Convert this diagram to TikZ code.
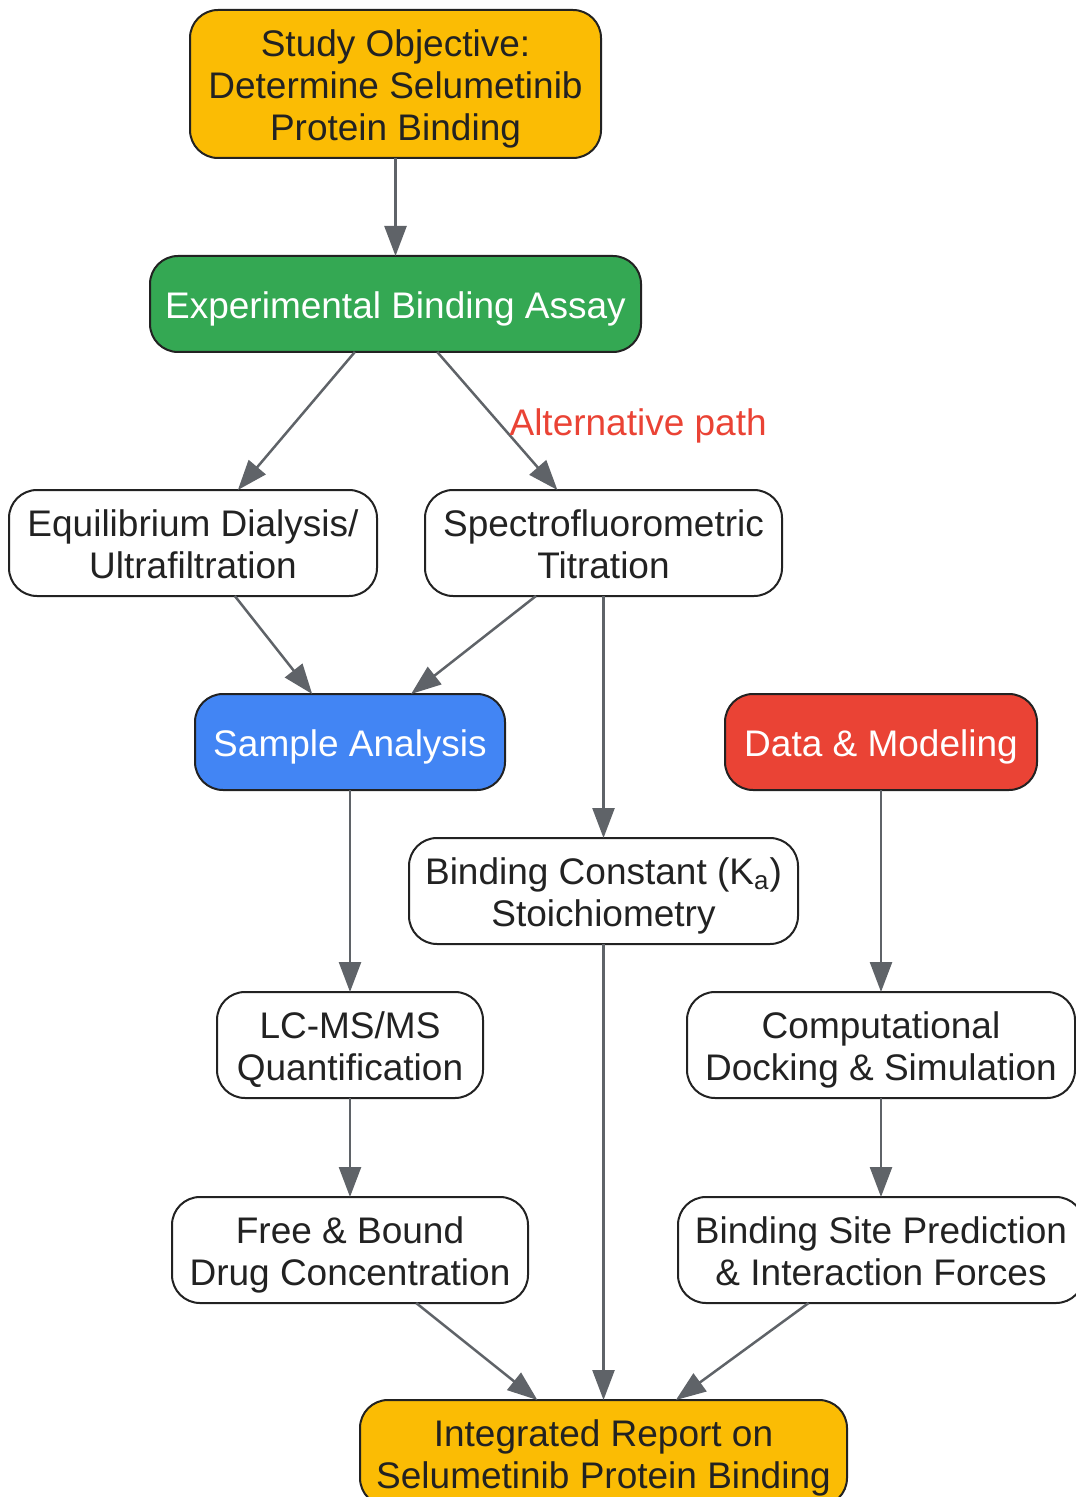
\documentclass[tikz,border=0pt]{standalone}
\usepackage{fontspec}
\setmainfont{Liberation Sans}
\usetikzlibrary{positioning}
\usetikzlibrary{arrows.meta}
\definecolor{giallo}{HTML}{FBBC04}
\definecolor{verde}{HTML}{34A853}
\definecolor{blu}{HTML}{4285F4}
\definecolor{rosso}{HTML}{EA4335}
\definecolor{linea}{HTML}{222222}
\definecolor{grigio}{HTML}{5F6368}
\begin{document}
\begin{tikzpicture}[x=0.5pt,y=-0.5pt,base/.style={draw=linea,line width=1pt,rounded corners=14pt,fill=white,text=linea,align=center,inner xsep=4pt,outer sep=0pt,text depth=3.25pt,font=\fontsize{18.5pt}{21pt}\selectfont},fase/.style={base,text=white},una/.style={minimum height=48pt,text height=17.75pt},due/.style={minimum height=53pt,text height=38.75pt},tre/.style={minimum height=74pt,text height=59.75pt},freccia/.style={draw=grigio,line width=1.25pt,-{Triangle[length=15pt,width=11pt]}},nota/.style={text=rosso,inner sep=0pt,font=\fontsize{18.5pt}{21pt}\selectfont}]
    \useasboundingbox (0,0) rectangle (1075,1497);
    %
    \node[base,tre,fill=giallo,minimum width=205.5pt](obj) at (395.5,84){Study Objective:\\Determine Selumetinib\\Protein Binding};
    \node[fase,una,fill=verde,minimum width=245.5pt,below=49pt of obj](assay){Experimental Binding Assay};
    %
    \node[base,due,minimum width=184pt](dial) at (193,543){Equilibrium Dialysis/\\Ultrafiltration};
    \node[base,due,minimum width=178.5pt](spec) at (603.5,543){Spectrofluorometric\\Titration};
    %
    \node[fase,una,fill=blu,minimum width=155pt](samp) at (350,742){Sample Analysis};
    \node[fase,una,fill=rosso,minimum width=156pt](data) at (881,742){Data \& Modeling};
    %
    \node[base,due,minimum width=194.5pt,below=121pt of spec](kconst){Binding Constant (K\textsubscript{a})\\Stoichiometry};
    \node[base,due,minimum width=133pt,below=101pt of samp](lcms){LC-MS/MS\\Quantification};
    \node[base,due,minimum width=194pt,below=101pt of data](comp){Computational\\Docking \& Simulation};
    \node[base,due,minimum width=178pt,below=49.5pt of lcms](free){Free \& Bound\\Drug Concentration};
    \node[base,due,minimum width=203pt,below=49.5pt of comp](site){Binding Site Prediction\\\& Interaction Forces};
    %
    \node[base,due,fill=giallo,minimum width=243.5pt,below=228pt of kconst](report){Integrated Report on\\Selumetinib Protein Binding};
    %
    \draw[freccia] (obj) -- (assay);
    \draw[freccia] (assay) -- (dial);
    \draw[freccia] (assay) -- node[nota,anchor=west,xshift=5.5pt,yshift=-2.25pt](alt){Alternative path} (spec);
    \draw[freccia] (dial) -- (samp);
    \draw[freccia] (spec) -- (samp);
    \draw[freccia] (spec) -- (kconst);
    \draw[freccia] (samp) -- (lcms);
    \draw[freccia] (lcms) -- (free);
    \draw[freccia] (data) -- (comp);
    \draw[freccia] (comp) -- (site);
    %
    \draw[freccia] (free) -- (report);
    \draw[freccia] (kconst) -- (report);
    \draw[freccia] (site) -- (report);
    %
\end{tikzpicture}
\end{document}
